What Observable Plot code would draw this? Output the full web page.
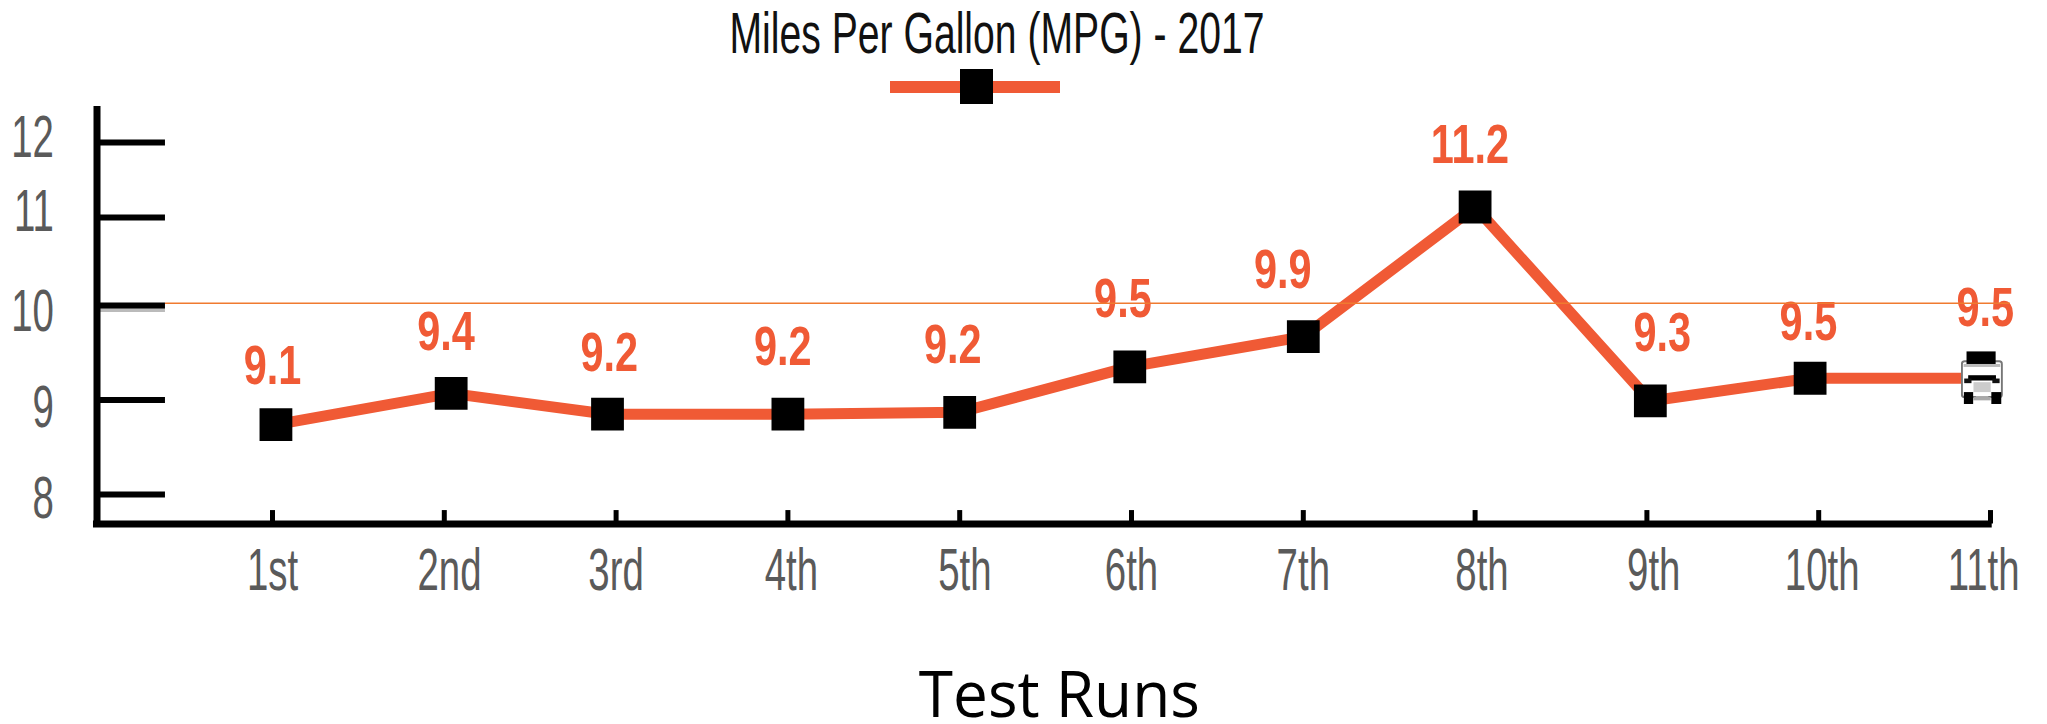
<!DOCTYPE html>
<html><head><meta charset="utf-8">
<script src="https://cdn.jsdelivr.net/npm/d3@7"></script>
<script src="https://cdn.jsdelivr.net/npm/@observablehq/plot@0.6"></script>
<style>
html,body{margin:0;padding:0;background:#fff;width:2047px;height:724px;overflow:hidden}
#wrap{position:relative;width:2047px;height:724px}
#title{position:absolute;left:997px;top:0;white-space:nowrap;font:58px "Liberation Sans",sans-serif;color:#111;line-height:66px;z-index:2;transform-origin:0 0}
#leg{position:absolute;left:890px;top:81px;width:170px;height:12px;background:#f05a35;z-index:2}
#legm{position:absolute;left:960px;top:69px;width:33px;height:35px;background:#000;z-index:3}
</style></head><body>
<div id="wrap"><div id="title">Miles Per Gallon (MPG) - 2017</div><div id="leg"></div><div id="legm"></div><div id="chart"></div></div>
<script>
const runs = ["1st","2nd","3rd","4th","5th","6th","7th","8th","9th","10th","11th"];
const labels = ["9.1","9.4","9.2","9.2","9.2","9.5","9.9","11.2","9.3","9.5","9.5"];
const pointX = [1.02,2.04,2.95,4.0,5.0,5.99,7.0,8.0,9.02,9.95,10.95];
const pointY = [8.74,9.07,8.85,8.85,8.87,9.35,9.67,11.14,8.99,9.23,9.23];
const labelX = [1.0,2.01,2.96,3.97,4.96,5.95,6.88,7.97,9.09,9.94,10.97];
const labelY = [9.36,9.72,9.5,9.56,9.58,10.07,10.4,11.97,9.71,9.82,9.97];
const runTicks = [1,2,3,4,5,6,7,8,9,10,11];
const runLabelX = [1.0,2.03,3.0,4.02,5.03,6.0,7.0,8.04,9.04,10.02,10.96];
const yTicks = [8,9,10,11,12];
const yLabelPos = [7.95,8.92,9.93,11.07,12.06];
const refValue = 10.026;

const truckSvg = `<svg xmlns="http://www.w3.org/2000/svg" viewBox="0 0 127 175">
<rect x="3" y="42" width="121" height="108" rx="8" fill="#fff" stroke="#777" stroke-width="6"/>
<rect x="17" y="12" width="88" height="40" fill="#000"/>
<rect x="8" y="50" width="111" height="9" fill="#bbb"/>
<rect x="22" y="84" width="84" height="16" fill="#000"/>
<rect x="10" y="94" width="22" height="14" fill="#111"/><rect x="95" y="94" width="22" height="14" fill="#111"/>
<rect x="38" y="105" width="52" height="30" fill="#ccc"/>
<rect x="45" y="138" width="38" height="10" fill="#fff"/><rect x="38" y="150" width="52" height="10" fill="#aaa"/>
<rect x="9" y="135" width="28" height="36" fill="#000"/><rect x="92" y="135" width="30" height="36" fill="#000"/>
</svg>`;
const truck = "data:image/svg+xml," + encodeURIComponent(truckSvg);

const rows = runs.map((r,i)=>({r,label:labels[i],x:pointX[i],y:pointY[i],lx:labelX[i],ly:labelY[i],tx:runLabelX[i]}));
const font = "Liberation Sans";
const plot = Plot.plot({
  width:2047,height:724,margin:0,
  x:{type:"linear",domain:[1,11],range:[272,1990]},
  y:{type:"linear",domain:[8,9,10,11,12],range:[494,399.5,305,217,142]},
  marks:[
    Plot.ruleY([9.952],{x1:-0.0215,x2:0.377,stroke:"#bbb",strokeWidth:4}),
    Plot.ruleY(yTicks,{x1:-0.0215,x2:0.377,stroke:"#000",strokeWidth:6}),
    Plot.ruleX([-0.0215],{y1:7.688,y2:12.48,stroke:"#000",strokeWidth:7}),
    Plot.ruleY([7.688],{x1:-0.042,x2:11.01,stroke:"#000",strokeWidth:7}),
    Plot.ruleX(runTicks,{y1:7.688,y2:7.83,stroke:"#000",strokeWidth:5}),
    Plot.line(rows,{x:"x",y:"y",stroke:"#f05a35",strokeWidth:11}),
    Plot.dot(rows.slice(0,10),{x:"x",y:"y",symbol:"square",r:18.5,fill:"#000",stroke:"none"}),
    Plot.image(rows.slice(10),{x:"x",y:()=>9.25,src:()=>truck,width:42,height:58}),
    Plot.text(rows,{x:"lx",y:"ly",text:"label",fill:"#f05a35",fontFamily:font,fontWeight:"bold",fontSize:56}),
    Plot.ruleY([refValue],{x1:0.377,x2:11.116,stroke:"#f07a30",strokeWidth:1.5}),
    Plot.text(rows,{x:"tx",y:()=>7.19,text:"r",fill:"#5a5a5a",fontFamily:font,fontSize:60}),
    Plot.text(yTicks,{x:()=>-0.272,y:(d,i)=>yLabelPos[i],text:d=>String(d),textAnchor:"end",fill:"#5a5a5a",fontFamily:font,fontSize:60}),
    Plot.text(["Test Runs"],{x:()=>5.58,y:()=>5.86,text:d=>d,fill:"#000",fontFamily:"Open Sans",fontSize:64})
  ]
});
document.getElementById("chart").append(plot);

// condense the text: the original uses a narrow typeface that is not installed
function squeeze(){
  plot.querySelectorAll("text").forEach(t=>{
    t.removeAttribute("textLength");
    t.removeAttribute("lengthAdjust");
    const fs = t.closest("g[font-size]")?.getAttribute("font-size");
    const s = t.textContent;
    const n = t.getComputedTextLength();
    const target = s==="Test Runs" ? 281 : n*(fs=="56" ? 0.74 : 0.64);
    t.setAttribute("textLength",target);
    t.setAttribute("lengthAdjust","spacingAndGlyphs");
  });
  const title = document.getElementById("title");
  const k = 535/title.offsetWidth;
  title.style.transform = `scaleX(${k}) translateX(-50%)`;
}
squeeze();
if (document.fonts && document.fonts.ready) document.fonts.ready.then(squeeze);
</script></body></html>
